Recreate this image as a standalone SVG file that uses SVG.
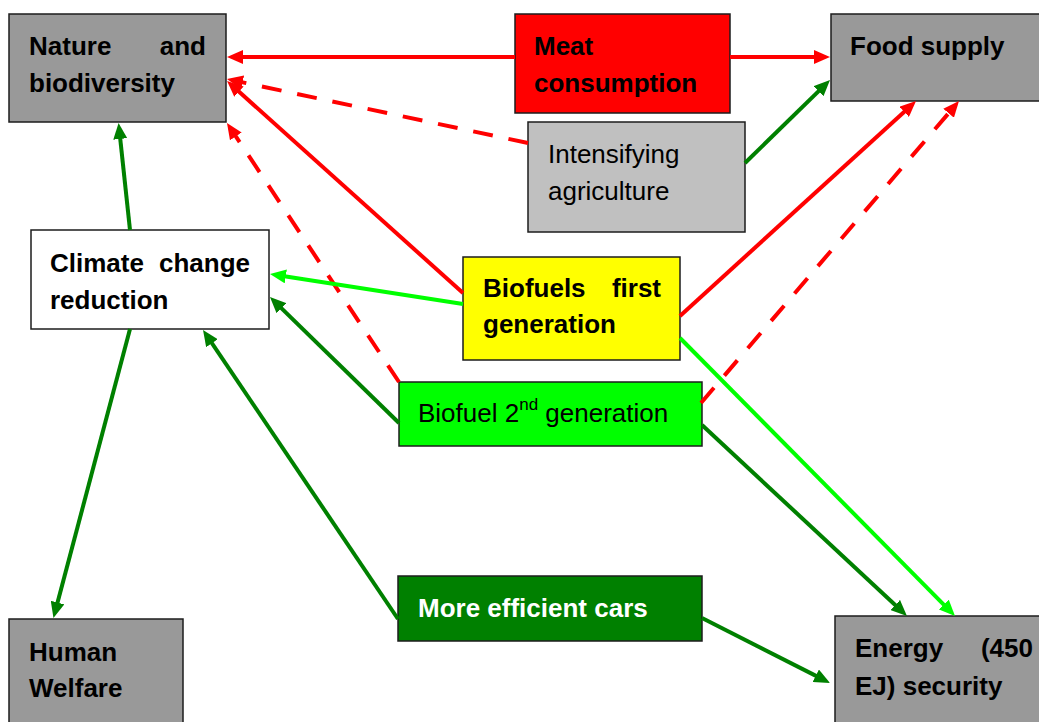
<svg xmlns="http://www.w3.org/2000/svg" width="1039" height="722" viewBox="0 0 1039 722">
<style>
  .box { stroke: #1c1c1c; stroke-width: 1.5; }
  .t { font-family: "Liberation Sans", Arial, sans-serif; font-size: 26px; fill: #000; }
  .b { font-weight: bold; }
  .red { stroke: #ff0000; stroke-width: 4; fill: none; }
  .dash { stroke-dasharray: 20 16; }
  .dg { stroke: #008000; stroke-width: 4; fill: none; }
  .lg { stroke: #00ff00; stroke-width: 4; fill: none; }
</style>
<defs>
  <marker id="aR" markerUnits="userSpaceOnUse" markerWidth="16" markerHeight="14" viewBox="0 0 16 14" refX="8" refY="7" orient="auto"><path d="M0,0 L16,7 L0,14 z" fill="#ff0000"/></marker>
  <marker id="aD" markerUnits="userSpaceOnUse" markerWidth="16" markerHeight="14" viewBox="0 0 16 14" refX="8" refY="7" orient="auto"><path d="M0,0 L16,7 L0,14 z" fill="#008000"/></marker>
  <marker id="aL" markerUnits="userSpaceOnUse" markerWidth="16" markerHeight="14" viewBox="0 0 16 14" refX="8" refY="7" orient="auto"><path d="M0,0 L16,7 L0,14 z" fill="#00ff00"/></marker>
</defs>
<rect width="1039" height="722" fill="#fff"/>

<g id="nature">
  <rect class="box" x="9" y="14" width="217" height="108" fill="#999999"/>
  <text class="t b" x="29" y="55">Nature</text>
  <text class="t b" x="206" y="55" text-anchor="end">and</text>
  <text class="t b" x="29" y="92">biodiversity</text>
</g>
<g id="meat">
  <rect class="box" x="515" y="14" width="215" height="99" fill="#ff0000"/>
  <text class="t b" x="534" y="55">Meat</text>
  <text class="t b" x="534" y="92">consumption</text>
</g>
<g id="food">
  <rect class="box" x="831" y="14" width="215" height="87" fill="#999999"/>
  <text class="t b" x="850" y="55">Food supply</text>
</g>
<g id="intensifying">
  <rect class="box" x="528" y="122" width="217" height="110" fill="#c0c0c0"/>
  <text class="t" x="548" y="163">Intensifying</text>
  <text class="t" x="548" y="200">agriculture</text>
</g>
<g id="climate">
  <rect class="box" x="31" y="230" width="238" height="99" fill="#ffffff"/>
  <text class="t b" x="50" y="272">Climate</text>
  <text class="t b" x="250" y="272" text-anchor="end">change</text>
  <text class="t b" x="50" y="309">reduction</text>
</g>
<g id="biofuel1">
  <rect class="box" x="463" y="257" width="217" height="103" fill="#ffff00"/>
  <text class="t b" x="483" y="297">Biofuels</text>
  <text class="t b" x="661" y="297" text-anchor="end">first</text>
  <text class="t b" x="483" y="333">generation</text>
</g>
<g id="biofuel2">
  <rect class="box" x="399" y="382" width="303" height="64" fill="#00ff00"/>
  <text class="t" x="418" y="422">Biofuel 2<tspan font-size="17" dy="-12">nd</tspan><tspan dy="12"> generation</tspan></text>
</g>
<g id="cars">
  <rect class="box" x="398" y="576" width="304" height="65" fill="#008000"/>
  <text class="t b" x="418" y="617" fill="#ffffff" style="fill:#ffffff">More efficient cars</text>
</g>
<g id="human">
  <rect class="box" x="9" y="619" width="174" height="110" fill="#999999"/>
  <text class="t b" x="29" y="661">Human</text>
  <text class="t b" x="29" y="697">Welfare</text>
</g>
<g id="energy">
  <rect class="box" x="835" y="616" width="211" height="110" fill="#999999"/>
  <text class="t b" x="855" y="657">Energy</text>
  <text class="t b" x="1033" y="657" text-anchor="end">(450</text>
  <text class="t b" x="855" y="695">EJ) security</text>
</g>

<g id="connectors">
  <line class="red" x1="515" y1="57" x2="235" y2="57" marker-end="url(#aR)"/>
  <line class="red" x1="730" y1="57" x2="822" y2="57" marker-end="url(#aR)"/>
  <line class="red dash" x1="528" y1="143" x2="234.8" y2="80.7" marker-end="url(#aR)"/>
  <line class="red" x1="463" y1="293" x2="233" y2="86.3" marker-end="url(#aR)"/>
  <line class="red dash" x1="399" y1="382" x2="231.4" y2="129.7" marker-end="url(#aR)"/>
  <line class="dg" x1="745" y1="163" x2="824.3" y2="85.6" marker-end="url(#aD)"/>
  <line class="red" x1="680" y1="316" x2="910.1" y2="106.4" marker-end="url(#aR)"/>
  <line class="red dash" x1="701" y1="403" x2="953.8" y2="107.1" marker-end="url(#aR)"/>
  <line class="lg" x1="463" y1="304" x2="277.9" y2="275.2" marker-end="url(#aL)"/>
  <line class="lg" x1="680" y1="338" x2="949.4" y2="610.3" marker-end="url(#aL)"/>
  <line class="dg" x1="399" y1="423" x2="275.7" y2="302.6" marker-end="url(#aD)"/>
  <line class="dg" x1="702" y1="425" x2="901.1" y2="610.5" marker-end="url(#aD)"/>
  <line class="dg" x1="398" y1="619" x2="207.5" y2="336.6" marker-end="url(#aD)"/>
  <line class="dg" x1="702" y1="618" x2="822.9" y2="679.4" marker-end="url(#aD)"/>
  <line class="dg" x1="130" y1="230" x2="119.4" y2="131" marker-end="url(#aD)"/>
  <line class="dg" x1="130" y1="329" x2="55.5" y2="610.3" marker-end="url(#aD)"/>
</g>
</svg>
